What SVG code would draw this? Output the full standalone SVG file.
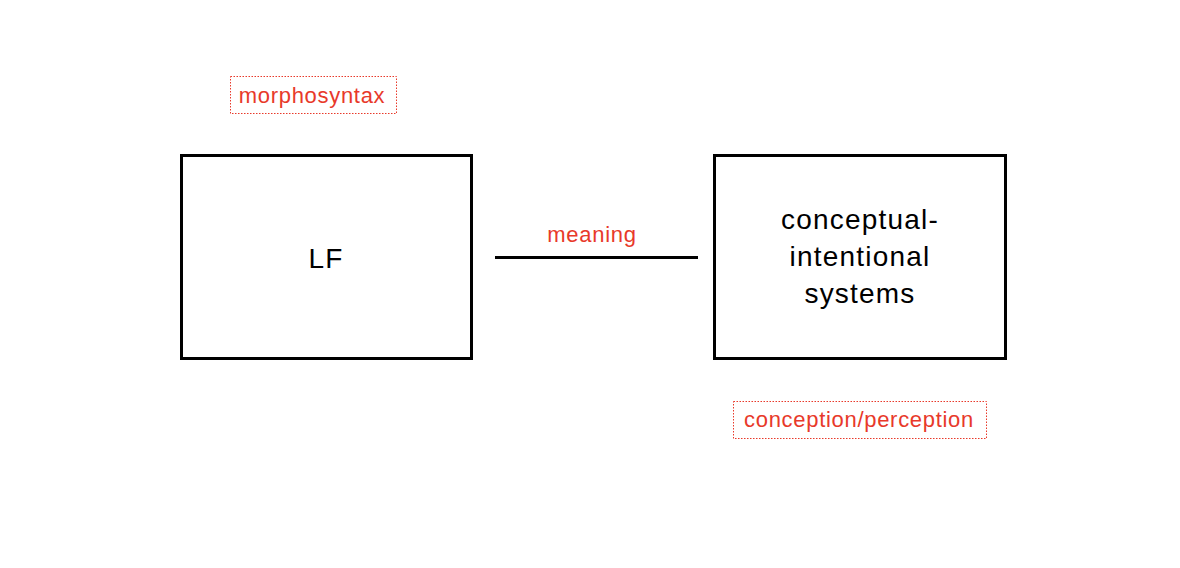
<svg xmlns="http://www.w3.org/2000/svg" width="1180" height="568" viewBox="0 0 1180 568">
<style>
.box{fill:#fff;stroke:#000;stroke-width:3}
.lbl{fill:none;stroke:#e8392a;stroke-width:1;stroke-dasharray:1.5 1.5}
.t{font-family:"Liberation Sans",Arial,sans-serif;fill:#000;font-size:28px;letter-spacing:1.2px;text-anchor:middle}
.r{font-family:"Liberation Sans",Arial,sans-serif;fill:#e8392a;font-size:22px;letter-spacing:0.7px;text-anchor:middle}
</style>
<rect width="1180" height="568" fill="#fff"/>
<g id="lf">
<rect class="box" x="181.5" y="155.5" width="290" height="203"/>
<text class="t" x="326" y="268">LF</text>
</g>
<g id="ci">
<rect class="box" x="714.5" y="155.5" width="291" height="203"/>
<text class="t" x="860" y="229">conceptual-</text>
<text class="t" x="860" y="266">intentional</text>
<text class="t" x="860" y="303">systems</text>
</g>
<g id="connectors">
<line x1="495" y1="257.5" x2="698" y2="257.5" stroke="#000" stroke-width="3"/>
<text class="r" x="592" y="242">meaning</text>
</g>
<g id="morphosyntax">
<rect class="lbl" x="230.5" y="76.5" width="166" height="37"/>
<text class="r" x="312" y="103">morphosyntax</text>
</g>
<g id="conception">
<rect class="lbl" x="733.5" y="401.5" width="253" height="37"/>
<text class="r" x="859" y="427">conception/perception</text>
</g>
</svg>
